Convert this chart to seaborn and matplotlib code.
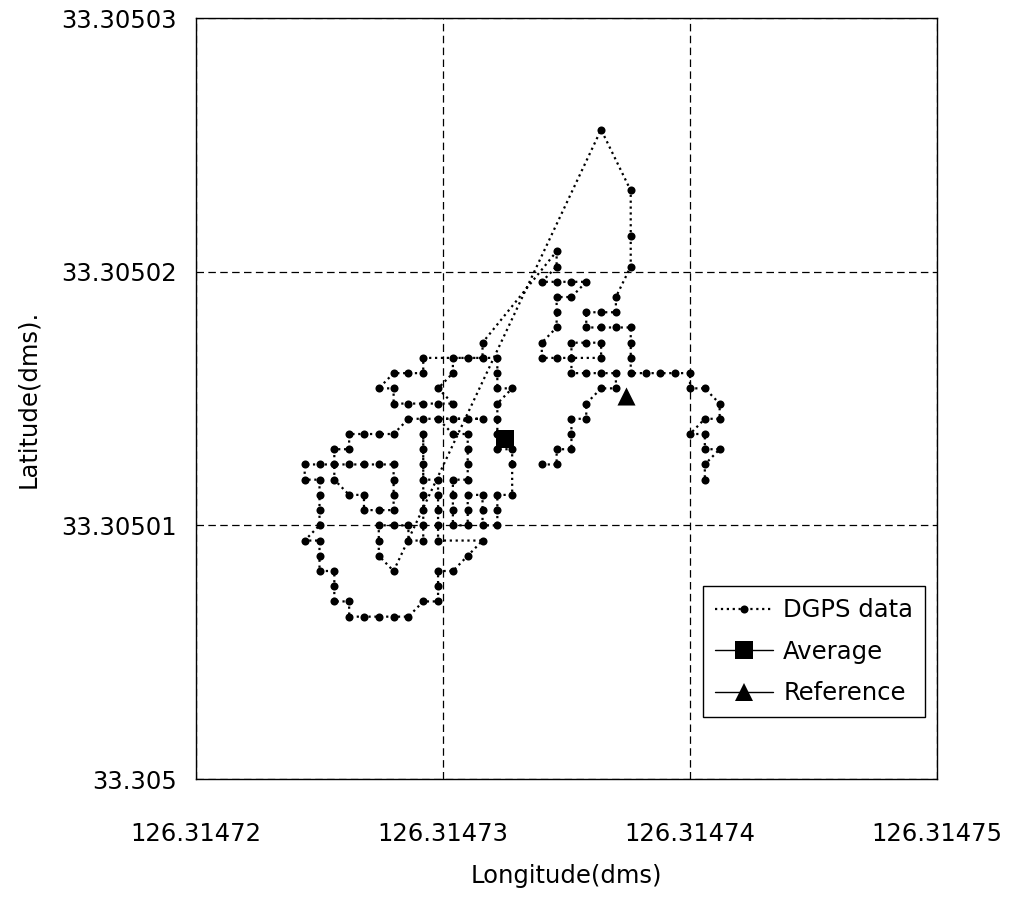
import matplotlib
matplotlib.use("Agg")
import matplotlib.pyplot as plt
import seaborn as sns
import pandas as pd
from matplotlib.lines import Line2D

# ---------------- data ----------------
dgps_lon = [
    126.3147340, 126.3147346, 126.3147346, 126.3147352, 126.3147352, 126.3147352, 126.3147358, 126.3147358, 126.3147364, 126.3147370,
    126.3147370, 126.3147364, 126.3147358, 126.3147352, 126.3147352, 126.3147352, 126.3147358, 126.3147364, 126.3147364, 126.3147346,
    126.3147340, 126.3147340, 126.3147346, 126.3147346, 126.3147346, 126.3147352, 126.3147358, 126.3147352, 126.3147346, 126.3147340,
    126.3147346, 126.3147346, 126.3147316, 126.3147316, 126.3147310, 126.3147304, 126.3147304, 126.3147298, 126.3147304, 126.3147298,
    126.3147292, 126.3147286, 126.3147280, 126.3147280, 126.3147274, 126.3147280, 126.3147286, 126.3147292, 126.3147292, 126.3147322,
    126.3147322, 126.3147322, 126.3147328, 126.3147322, 126.3147322, 126.3147322, 126.3147322, 126.3147328, 126.3147328, 126.3147328,
    126.3147322, 126.3147322, 126.3147322, 126.3147316, 126.3147316, 126.3147316, 126.3147310, 126.3147310, 126.3147310, 126.3147304,
    126.3147304, 126.3147304, 126.3147304, 126.3147310, 126.3147310, 126.3147310, 126.3147310, 126.3147304, 126.3147298, 126.3147304,
    126.3147310, 126.3147316, 126.3147292, 126.3147286, 126.3147280, 126.3147274, 126.3147268, 126.3147262, 126.3147262, 126.3147256,
    126.3147256, 126.3147262, 126.3147268, 126.3147268, 126.3147274, 126.3147280, 126.3147280, 126.3147280, 126.3147280, 126.3147274,
    126.3147268, 126.3147262, 126.3147256, 126.3147250, 126.3147244, 126.3147244, 126.3147250, 126.3147250, 126.3147250, 126.3147250,
    126.3147244, 126.3147250, 126.3147250, 126.3147250, 126.3147256, 126.3147256, 126.3147256, 126.3147262, 126.3147262, 126.3147268,
    126.3147274, 126.3147280, 126.3147286, 126.3147292, 126.3147298, 126.3147298, 126.3147298, 126.3147304, 126.3147310, 126.3147316,
    126.3147298, 126.3147298, 126.3147298, 126.3147298, 126.3147298, 126.3147292, 126.3147292, 126.3147292, 126.3147292, 126.3147292,
    126.3147292, 126.3147292, 126.3147292, 126.3147286, 126.3147286, 126.3147280, 126.3147274, 126.3147274, 126.3147274, 126.3147280,
    126.3147364, 126.3147376, 126.3147376, 126.3147376, 126.3147370, 126.3147370, 126.3147364, 126.3147358, 126.3147358, 126.3147364,
    126.3147370, 126.3147376, 126.3147376, 126.3147376, 126.3147376, 126.3147382, 126.3147388, 126.3147394, 126.3147400, 126.3147400,
    126.3147406, 126.3147412, 126.3147412, 126.3147406, 126.3147400, 126.3147406, 126.3147406, 126.3147412, 126.3147406, 126.3147406,
]
dgps_lat = [
    33.3050124, 33.3050124, 33.3050130, 33.3050130, 33.3050136, 33.3050142, 33.3050142, 33.3050148, 33.3050154, 33.3050154,
    33.3050160, 33.3050160, 33.3050160, 33.3050160, 33.3050166, 33.3050172, 33.3050172, 33.3050172, 33.3050166, 33.3050166,
    33.3050166, 33.3050172, 33.3050178, 33.3050184, 33.3050190, 33.3050190, 33.3050196, 33.3050196, 33.3050196, 33.3050196,
    33.3050202, 33.3050208, 33.3050172, 33.3050166, 33.3050166, 33.3050166, 33.3050160, 33.3050154, 33.3050148, 33.3050148,
    33.3050148, 33.3050148, 33.3050148, 33.3050154, 33.3050154, 33.3050160, 33.3050160, 33.3050160, 33.3050166, 33.3050166,
    33.3050160, 33.3050154, 33.3050154, 33.3050148, 33.3050142, 33.3050136, 33.3050130, 33.3050130, 33.3050124, 33.3050112,
    33.3050112, 33.3050106, 33.3050100, 33.3050100, 33.3050106, 33.3050112, 33.3050112, 33.3050106, 33.3050100, 33.3050100,
    33.3050106, 33.3050112, 33.3050118, 33.3050118, 33.3050124, 33.3050130, 33.3050136, 33.3050136, 33.3050142, 33.3050142,
    33.3050142, 33.3050142, 33.3050142, 33.3050142, 33.3050136, 33.3050136, 33.3050136, 33.3050136, 33.3050130, 33.3050130,
    33.3050118, 33.3050112, 33.3050112, 33.3050106, 33.3050106, 33.3050106, 33.3050112, 33.3050118, 33.3050124, 33.3050124,
    33.3050124, 33.3050124, 33.3050124, 33.3050124, 33.3050124, 33.3050118, 33.3050118, 33.3050112, 33.3050106, 33.3050100,
    33.3050094, 33.3050094, 33.3050088, 33.3050082, 33.3050082, 33.3050076, 33.3050070, 33.3050070, 33.3050064, 33.3050064,
    33.3050064, 33.3050064, 33.3050064, 33.3050070, 33.3050070, 33.3050076, 33.3050082, 33.3050082, 33.3050088, 33.3050094,
    33.3050094, 33.3050100, 33.3050106, 33.3050112, 33.3050118, 33.3050118, 33.3050124, 33.3050130, 33.3050136, 33.3050112,
    33.3050106, 33.3050100, 33.3050094, 33.3050094, 33.3050100, 33.3050100, 33.3050100, 33.3050094, 33.3050088, 33.3050082,
    33.3050256, 33.3050232, 33.3050214, 33.3050202, 33.3050190, 33.3050184, 33.3050184, 33.3050184, 33.3050178, 33.3050178,
    33.3050178, 33.3050178, 33.3050172, 33.3050166, 33.3050160, 33.3050160, 33.3050160, 33.3050160, 33.3050160, 33.3050154,
    33.3050154, 33.3050148, 33.3050142, 33.3050142, 33.3050136, 33.3050136, 33.3050130, 33.3050130, 33.3050124, 33.3050118,
]
average_lon = [126.3147325]
average_lat = [33.3050134]
reference_lon = [126.3147374]
reference_lat = [33.3050151]

x_ticks = [126.31472, 126.31473, 126.31474, 126.31475]
x_tick_labels = ["126.31472", "126.31473", "126.31474", "126.31475"]
y_ticks = [33.305, 33.30501, 33.30502, 33.30503]
y_tick_labels = ["33.305", "33.30501", "33.30502", "33.30503"]

series_labels = ["DGPS data", "Average", "Reference"]
x_label = "Longitude(dms)"
y_label = "Latitude(dms)."

# ---------------- style ----------------
sns.set_style("white")
plt.rcParams["font.family"] = ["DejaVu Sans"]
plt.rcParams["text.color"] = "black"

fig = plt.figure(figsize=(10.18, 9.0), dpi=100)
ax = fig.add_axes([196 / 1018, 1 - 779 / 900, 741 / 1018, 761 / 900])

df = pd.DataFrame({"lon": dgps_lon, "lat": dgps_lat})
sns.lineplot(data=df, x="lon", y="lat", sort=False, estimator=None,
             color="black", linestyle=":", linewidth=1.6,
             marker="o", markersize=5.8, markeredgewidth=0, ax=ax, zorder=3)

avg_df = pd.DataFrame({"lon": average_lon, "lat": average_lat})
ref_df = pd.DataFrame({"lon": reference_lon, "lat": reference_lat})
sns.scatterplot(data=avg_df, x="lon", y="lat", marker="s", s=13.5 ** 2,
                color="black", edgecolor="black", linewidth=0, ax=ax, zorder=4)
sns.scatterplot(data=ref_df, x="lon", y="lat", marker="^", s=13 ** 2,
                color="black", edgecolor="black", linewidth=0, ax=ax, zorder=4)

ax.set_xlim(x_ticks[0], x_ticks[-1])
ax.set_ylim(y_ticks[0], y_ticks[-1])
ax.set_xticks(x_ticks, x_tick_labels)
ax.set_yticks(y_ticks, y_tick_labels)
ax.tick_params(axis="both", length=0, labelsize=17.5, colors="black")
ax.tick_params(axis="x", pad=31)
ax.tick_params(axis="y", pad=14)

ax.grid(True, color="black", linestyle=(0, (6, 3.5)), linewidth=0.9)
ax.set_axisbelow(True)
for sp in ax.spines.values():
    sp.set_visible(True)
    sp.set_color("black")
    sp.set_linewidth(1.0)

ax.set_xlabel(x_label, fontsize=17.5, labelpad=13, color="black")
ax.set_ylabel(y_label, fontsize=17.5, labelpad=15, color="black")

handles = [
    Line2D([], [], color="black", linestyle=":", linewidth=1.6, marker="o",
           markersize=5.8, markeredgewidth=0),
    Line2D([], [], color="black", linestyle="-", linewidth=1.0, marker="s",
           markersize=13.5, markeredgewidth=0),
    Line2D([], [], color="black", linestyle="-", linewidth=1.0, marker="^",
           markersize=13, markeredgewidth=0),
]
leg = ax.legend(handles, series_labels, loc="upper left",
                bbox_to_anchor=((703 - 196) / 741, (779 - 586) / 761),
                borderaxespad=0, fontsize=17.5, frameon=True, fancybox=False,
                shadow=False, handlelength=2.4, handletextpad=0.4,
                borderpad=0.5, labelspacing=0.72, numpoints=1)
leg.get_frame().set_edgecolor("black")
leg.get_frame().set_linewidth(1.0)
leg.get_frame().set_alpha(1)
for t in leg.get_texts():
    t.set_color("black")

fig.savefig("out.png", dpi=100)
